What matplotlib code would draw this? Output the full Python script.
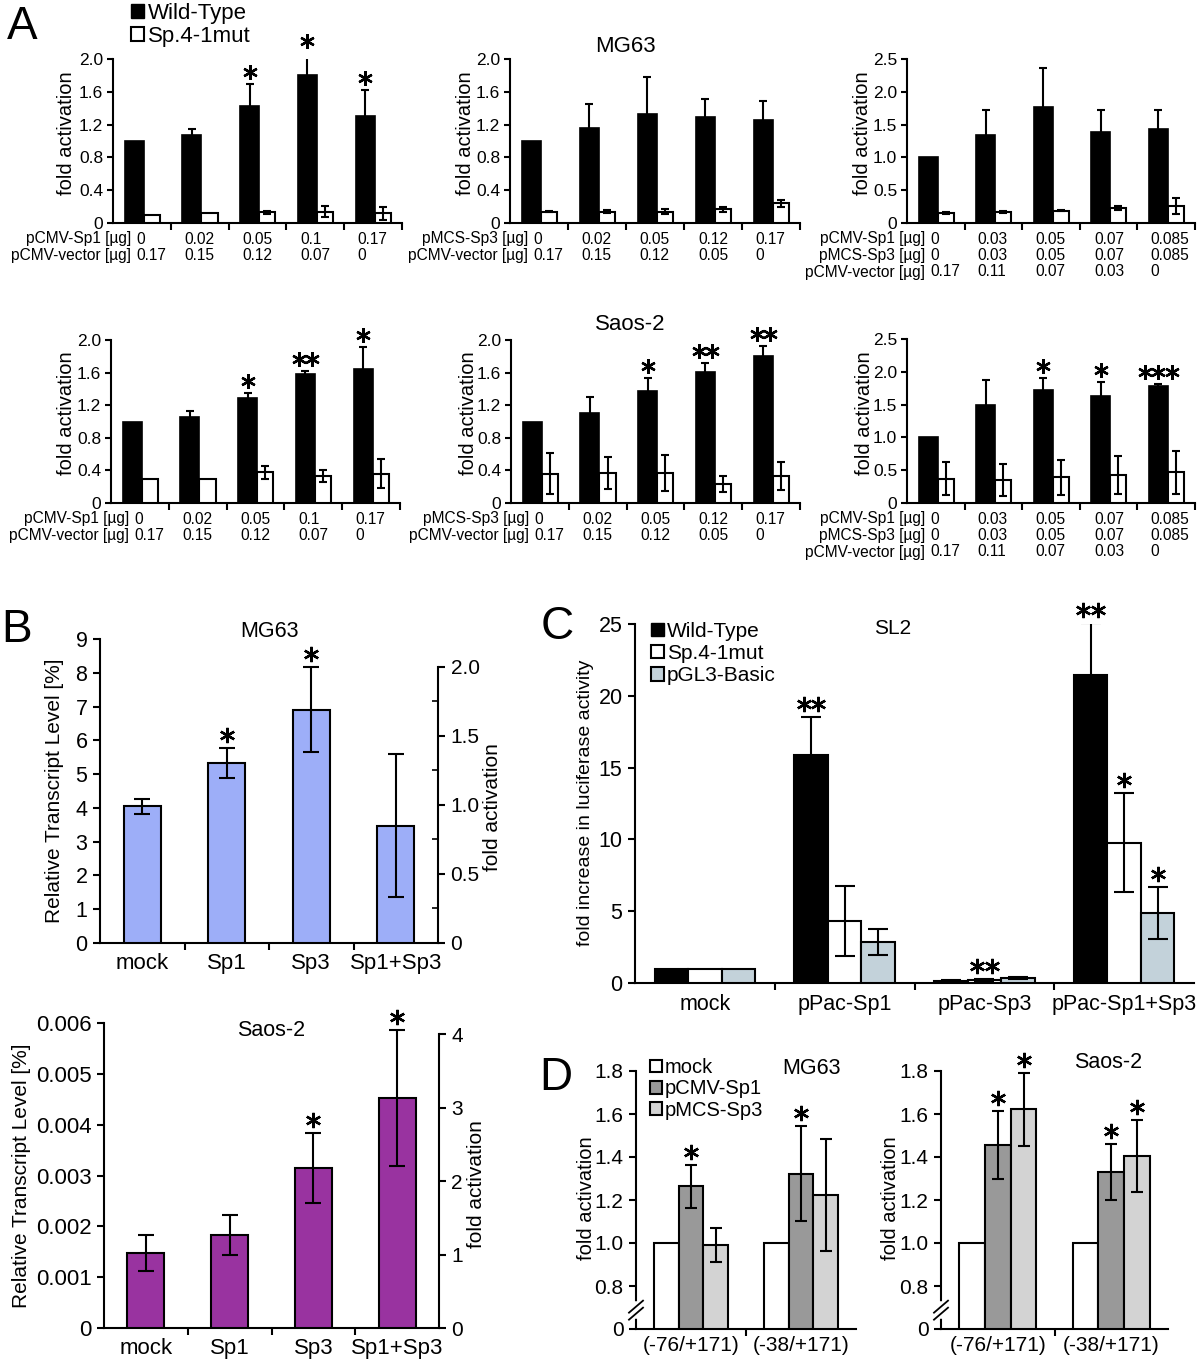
import numpy as np
import matplotlib
matplotlib.use('Agg')
import matplotlib.pyplot as plt
from matplotlib.patches import Patch
from matplotlib.transforms import offset_copy
from matplotlib.ticker import MultipleLocator

plt.rcParams['font.family'] = ['Liberation Sans', 'DejaVu Sans']
plt.rcParams['axes.linewidth'] = 1.5
plt.rcParams['xtick.major.width'] = 1.5
plt.rcParams['ytick.major.width'] = 1.5
plt.rcParams['ytick.minor.width'] = 1.2

# ---------------- data ----------------
# Panel A (Wild-Type vs Sp.4-1mut, fold activation)
sp1_ug = ['0', '0.02', '0.05', '0.1', '0.17']
sp1_vec_ug = ['0.17', '0.15', '0.12', '0.07', '0']
sp3_ug = ['0', '0.02', '0.05', '0.12', '0.17']
sp3_vec_ug = ['0.17', '0.15', '0.12', '0.05', '0']
combo_ug = ['0', '0.03', '0.05', '0.07', '0.085']
combo_vec_ug = ['0.17', '0.11', '0.07', '0.03', '0']

mg63_sp1_wt = [1.0, 1.07, 1.43, 1.80, 1.31]
mg63_sp1_wt_err = [0, 0.08, 0.26, 0.27, 0.31]
mg63_sp1_mut = [0.10, 0.12, 0.13, 0.14, 0.12]
mg63_sp1_mut_err = [0, 0, 0.02, 0.07, 0.08]
mg63_sp1_sig = [0, 0, 1, 1, 1]

mg63_sp3_wt = [1.0, 1.16, 1.33, 1.29, 1.26]
mg63_sp3_wt_err = [0, 0.29, 0.45, 0.22, 0.23]
mg63_sp3_mut = [0.14, 0.14, 0.14, 0.17, 0.24]
mg63_sp3_mut_err = [0.01, 0.02, 0.03, 0.03, 0.04]
mg63_sp3_sig = [0, 0, 0, 0, 0]

mg63_combo_wt = [1.0, 1.34, 1.77, 1.39, 1.44]
mg63_combo_wt_err = [0, 0.39, 0.59, 0.34, 0.29]
mg63_combo_mut = [0.15, 0.17, 0.19, 0.23, 0.26]
mg63_combo_mut_err = [0.02, 0.02, 0.01, 0.03, 0.12]
mg63_combo_sig = [0, 0, 0, 0, 0]

saos_sp1_wt = [1.0, 1.06, 1.29, 1.58, 1.64]
saos_sp1_wt_err = [0, 0.07, 0.06, 0.04, 0.28]
saos_sp1_mut = [0.30, 0.29, 0.38, 0.33, 0.36]
saos_sp1_mut_err = [0, 0, 0.08, 0.07, 0.18]
saos_sp1_sig = [0, 0, 1, 2, 1]

saos_sp3_wt = [1.0, 1.10, 1.37, 1.61, 1.80]
saos_sp3_wt_err = [0, 0.20, 0.16, 0.11, 0.13]
saos_sp3_mut = [0.36, 0.37, 0.37, 0.23, 0.33]
saos_sp3_mut_err = [0.25, 0.20, 0.22, 0.10, 0.17]
saos_sp3_sig = [0, 0, 1, 2, 2]

saos_combo_wt = [1.0, 1.49, 1.72, 1.63, 1.78]
saos_combo_wt_err = [0, 0.38, 0.19, 0.21, 0.04]
saos_combo_mut = [0.37, 0.35, 0.39, 0.42, 0.47]
saos_combo_mut_err = [0.25, 0.25, 0.27, 0.29, 0.33]
saos_combo_sig = [0, 0, 1, 1, 3]

# Panel B (relative transcript level)
b_cats = ['mock', 'Sp1', 'Sp3', 'Sp1+Sp3']
b_mg63 = [4.05, 5.33, 6.91, 3.47]
b_mg63_err = [0.22, 0.45, 1.27, 2.12]
b_mg63_sig = [0, 1, 1, 0]
b_mg63_fold_top = 2.2     # right axis value at the top of left axis (9)
b_saos = [0.00148, 0.00183, 0.00314, 0.00452]
b_saos_err = [0.00035, 0.00039, 0.00069, 0.00134]
b_saos_sig = [0, 0, 1, 1]
b_saos_fold_top = 4.15    # right axis value at the top of left axis (0.006)

# Panel C (SL2)
c_cats = ['mock', 'pPac-Sp1', 'pPac-Sp3', 'pPac-Sp1+Sp3']
c_wt = [1.0, 15.9, 0.15, 21.45]
c_wt_err = [0, 2.6, 0.05, 3.6]
c_mut = [1.0, 4.32, 0.2, 9.78]
c_mut_err = [0, 2.44, 0.05, 3.45]
c_basic = [1.0, 2.85, 0.35, 4.88]
c_basic_err = [0, 0.9, 0.06, 1.8]
c_wt_sig = [0, 2, 0, 2]
c_mut_sig = [0, 0, 2, 1]
c_basic_sig = [0, 0, 0, 1]

# Panel D (deletion constructs)
d_cats = ['(-76/+171)', '(-38/+171)']
d_mg63_mock = [1.0, 1.0]
d_mg63_sp1 = [1.265, 1.322]
d_mg63_sp1_err = [0.10, 0.22]
d_mg63_sp3 = [0.99, 1.225]
d_mg63_sp3_err = [0.078, 0.26]
d_mg63_sig1 = [1, 1]
d_mg63_sig3 = [0, 0]
d_saos_mock = [1.0, 1.0]
d_saos_sp1 = [1.456, 1.332]
d_saos_sp1_err = [0.16, 0.13]
d_saos_sp3 = [1.621, 1.404]
d_saos_sp3_err = [0.17, 0.167]
d_saos_sig1 = [1, 1]
d_saos_sig3 = [1, 1]

W, H = 1200, 1359
fig = plt.figure(figsize=(W / 100, H / 100), dpi=100)


def add_ax(x0, y0, x1, y1):
    return fig.add_axes([x0 / W, 1 - y1 / H, (x1 - x0) / W, (y1 - y0) / H])


def ftext(x, y, s, **kw):
    fig.text(x / W, 1 - y / H, s, **kw)


def errbars(ax, x, y, e, capsize, lw=1.5):
    x = np.asarray(x, float)
    y = np.asarray(y, float)
    e = np.asarray(e, float)
    m = e > 0
    if m.any():
        ax.errorbar(x[m], y[m], yerr=e[m], fmt='none', ecolor='black',
                    elinewidth=lw, capsize=capsize, capthick=lw, zorder=4)


def stars(ax, x, y, n, dy=12, ms=10, gap=13, mew=1.7):
    for k in range(n):
        tr = offset_copy(ax.transData, fig=fig, x=(k - (n - 1) / 2) * gap, y=dy, units='dots')
        ax.plot([x], [y], marker=(6, 2, 0), ms=ms, mew=mew, color='black',
                transform=tr, clip_on=False, zorder=6)


def clean(ax):
    ax.spines['top'].set_visible(False)
    ax.spines['right'].set_visible(False)


# ---------------- Panel A ----------------
VAL_X = [-0.1, 0.73, 1.73, 2.75, 3.73]


def panel_a(box, wt, wt_err, mut, mut_err, sig, rows, ymax, ystep, ylab_x):
    ax = add_ax(*box)
    x = np.arange(5)
    ax.bar(x - 0.3, wt, width=0.33, align='edge', color='black', edgecolor='black', lw=1.2, zorder=3)
    errbars(ax, x - 0.3 + 0.165, wt, wt_err, capsize=3)
    ax.bar(x + 0.03, mut, width=0.28, align='edge', color='white', edgecolor='black', lw=1.5, zorder=3)
    errbars(ax, x + 0.03 + 0.14, mut, mut_err, capsize=3)
    for i in range(5):
        if sig[i]:
            stars(ax, x[i] - 0.3 + 0.165, wt[i] + wt_err[i], sig[i], dy=12, ms=10.5, gap=13.5)
    clean(ax)
    ax.set_xlim(-0.5, 4.5)
    ax.set_ylim(0, ymax)
    ticks = np.arange(0, ymax + 1e-9, ystep)
    ax.set_yticks(ticks)
    ax.set_yticklabels(['0' if t == 0 else f'{t:.1f}' for t in ticks])
    ax.set_xticks([0.5, 1.5, 2.5, 3.5, 4.5])
    ax.set_xticklabels([])
    ax.tick_params(axis='y', labelsize=12.5, length=4, pad=3)
    ax.tick_params(axis='x', length=5)
    xt = ax.get_xaxis_transform()
    for r, (name, vals) in enumerate(rows):
        dy = -(16 + 16.5 * r)
        ax.annotate(name, xy=(VAL_X[0], 0), xycoords=xt, xytext=(-5, dy),
                    textcoords='offset pixels', ha='right', va='center',
                    fontsize=11.2, annotation_clip=False)
        for i, v in enumerate(vals):
            ax.annotate(v, xy=(VAL_X[i], 0), xycoords=xt, xytext=(0, dy),
                        textcoords='offset pixels', ha='left', va='center',
                        fontsize=11.2, annotation_clip=False)
    yc = (box[1] + box[3]) / 2 - 8
    ftext(ylab_x, yc, 'fold activation', rotation=90, ha='center', va='center', fontsize=14.5)
    return ax


panel_a((113, 59, 402, 223), mg63_sp1_wt, mg63_sp1_wt_err, mg63_sp1_mut, mg63_sp1_mut_err,
        mg63_sp1_sig, [('pCMV-Sp1 [µg]', sp1_ug), ('pCMV-vector [µg]', sp1_vec_ug)], 2.0, 0.4, 67)
panel_a((510, 59, 800, 223), mg63_sp3_wt, mg63_sp3_wt_err, mg63_sp3_mut, mg63_sp3_mut_err,
        mg63_sp3_sig, [('pMCS-Sp3 [µg]', sp3_ug), ('pCMV-vector [µg]', sp3_vec_ug)], 2.0, 0.4, 466)
panel_a((907, 59, 1195, 223), mg63_combo_wt, mg63_combo_wt_err, mg63_combo_mut, mg63_combo_mut_err,
        mg63_combo_sig, [('pCMV-Sp1 [µg]', combo_ug), ('pMCS-Sp3 [µg]', combo_ug),
                         ('pCMV-vector [µg]', combo_vec_ug)], 2.5, 0.5, 863)
panel_a((111, 340, 400, 503), saos_sp1_wt, saos_sp1_wt_err, saos_sp1_mut, saos_sp1_mut_err,
        saos_sp1_sig, [('pCMV-Sp1 [µg]', sp1_ug), ('pCMV-vector [µg]', sp1_vec_ug)], 2.0, 0.4, 67)
panel_a((511, 340, 800, 503), saos_sp3_wt, saos_sp3_wt_err, saos_sp3_mut, saos_sp3_mut_err,
        saos_sp3_sig, [('pMCS-Sp3 [µg]', sp3_ug), ('pCMV-vector [µg]', sp3_vec_ug)], 2.0, 0.4, 468)
panel_a((907, 339, 1195, 503), saos_combo_wt, saos_combo_wt_err, saos_combo_mut, saos_combo_mut_err,
        saos_combo_sig, [('pCMV-Sp1 [µg]', combo_ug), ('pMCS-Sp3 [µg]', combo_ug),
                         ('pCMV-vector [µg]', combo_vec_ug)], 2.5, 0.5, 865)

ftext(625, 47, 'MG63', ha='center', va='center', fontsize=16)
ftext(630, 325, 'Saos-2', ha='center', va='center', fontsize=16)

fig.legend([Patch(facecolor='black', edgecolor='black'),
            Patch(facecolor='white', edgecolor='black', lw=1.5)],
           ['Wild-Type', 'Sp.4-1mut'], loc='upper left', bbox_to_anchor=(131 / W, 1 - 3 / H),
           frameon=False, fontsize=16, handlelength=0.6, handleheight=0.6,
           handletextpad=0.15, labelspacing=0.08, borderpad=0, borderaxespad=0)


# ---------------- Panel B ----------------
def panel_b(box, vals, errs, sig, color, ymax, ytick_step, yfmt, fold_top, fold_ticks,
            fold_minor, title, title_y, ylab_x, flab_x, flab_y, lsize, capsize):
    ax = add_ax(*box)
    x = np.arange(len(b_cats))
    ax.bar(x, vals, width=0.44, color=color, edgecolor='black', lw=1.5, zorder=3)
    errbars(ax, x, vals, errs, capsize=capsize)
    for i in range(len(x)):
        if sig[i]:
            stars(ax, x[i], vals[i] + errs[i], sig[i], dy=13, ms=11, gap=14)
    clean(ax)
    ax.set_xlim(-0.5, len(x) - 0.5)
    ax.set_ylim(0, ymax)
    ticks = np.arange(0, ymax + 1e-12, ytick_step)
    ax.set_yticks(ticks)
    ax.set_yticklabels([yfmt(t) for t in ticks])
    ax.set_xticks([0.5, 1.5, 2.5])
    ax.set_xticklabels([])
    ax.set_xticks(x, b_cats, minor=True)
    ax.tick_params(axis='x', which='minor', length=0, pad=7, labelsize=16)
    ax.tick_params(axis='x', which='major', length=5)
    ax.tick_params(axis='y', labelsize=lsize, length=5, pad=4)
    ax2 = ax.twinx()
    ax2.set_ylim(0, fold_top)
    for s in ('top', 'left', 'bottom'):
        ax2.spines[s].set_visible(False)
    ax2.spines['right'].set_bounds(0, fold_ticks[-1])
    ax2.set_yticks(fold_ticks)
    ax2.set_yticklabels(['0' if t == 0 else (f'{t:.1f}' if fold_minor else f'{t:g}') for t in fold_ticks])
    if fold_minor:
        ax2.yaxis.set_minor_locator(MultipleLocator(fold_minor))
        ax2.tick_params(axis='y', which='minor', direction='in', length=4)
    ax2.tick_params(axis='y', which='major', labelsize=15, length=5, pad=4)
    xc = (box[0] + box[2]) / 2
    ftext(xc, title_y, title, ha='center', va='center', fontsize=15.5)
    ftext(ylab_x, (box[1] + box[3]) / 2, 'Relative Transcript Level [%]', rotation=90,
          ha='center', va='center', fontsize=15)
    ftext(flab_x, flab_y, 'fold activation', rotation=90, ha='center', va='center', fontsize=15)
    return ax


panel_b((100, 639, 438, 943), b_mg63, b_mg63_err, b_mg63_sig, '#9DAEF8', 9, 1,
        lambda t: f'{t:.0f}', b_mg63_fold_top, [0, 0.5, 1.0, 1.5, 2.0], 0.25,
        'MG63', 631, 55, 493, 807, 15.5, 5.5)
panel_b((104, 1023, 439, 1328), b_saos, b_saos_err, b_saos_sig, '#9933A0', 0.006, 0.001,
        lambda t: '0' if t == 0 else f'{t:.3f}', b_saos_fold_top, [0, 1, 2, 3, 4], None,
        'Saos-2', 1030, 22, 476, 1184, 16, 6)

# ---------------- Panel C ----------------
ax_c = add_ax(635, 624, 1194, 983)
xc = np.arange(len(c_cats))
series_c = [(c_wt, c_wt_err, c_wt_sig, 'black', -0.24),
            (c_mut, c_mut_err, c_mut_sig, 'white', 0.0),
            (c_basic, c_basic_err, c_basic_sig, '#C3D2DA', 0.24)]
for vals, errs, sig, col, off in series_c:
    ax_c.bar(xc + off, vals, width=0.24, color=col, edgecolor='black', lw=1.5, zorder=3)
    errbars(ax_c, xc + off, vals, errs, capsize=7)
    for i in range(len(xc)):
        if sig[i]:
            stars(ax_c, xc[i] + off, vals[i] + errs[i], sig[i], dy=13, ms=11, gap=14.5)
clean(ax_c)
ax_c.set_xlim(-0.5, 3.5)
ax_c.set_ylim(0, 25)
ax_c.set_yticks(np.arange(0, 26, 5))
ax_c.set_xticks([0.5, 1.5, 2.5])
ax_c.set_xticklabels([])
ax_c.set_xticks(xc, c_cats, minor=True)
ax_c.tick_params(axis='x', which='minor', length=0, pad=8, labelsize=15.5)
ax_c.tick_params(axis='x', which='major', length=5)
ax_c.tick_params(axis='y', labelsize=15.5, length=5, pad=4)
ftext(586, 803, 'fold increase in luciferase activity', rotation=90, ha='center', va='center', fontsize=14)
ftext(893, 628, 'SL2', ha='center', va='center', fontsize=15)
ax_c.legend([Patch(facecolor='black', edgecolor='black'),
             Patch(facecolor='white', edgecolor='black', lw=1.5),
             Patch(facecolor='#C3D2DA', edgecolor='black', lw=1.5)],
            ['Wild-Type', 'Sp.4-1mut', 'pGL3-Basic'], loc='upper left',
            bbox_to_anchor=(651 / W, 1 - 622 / H), bbox_transform=fig.transFigure,
            frameon=False, fontsize=15, handlelength=0.6, handleheight=0.6,
            handletextpad=0.15, labelspacing=0.15, borderpad=0, borderaxespad=0)

# ---------------- Panel D ----------------
D_ZERO = 0.6   # axis position that carries the "0" label below the break


def panel_d(box, mock, sp1, sp1_err, sp3, sp3_err, sig1, sig3, title, title_xy, ylab_x):
    ax = add_ax(*box)
    x = np.arange(len(d_cats))
    w = 0.227
    for vals, errs, sig, col, off in [(mock, [0, 0], [0, 0], 'white', -w),
                                      (sp1, sp1_err, sig1, '#999999', 0.0),
                                      (sp3, sp3_err, sig3, '#D3D3D3', w)]:
        v = np.asarray(vals)
        ax.bar(x + off, v - D_ZERO, bottom=D_ZERO, width=w, color=col, edgecolor='black', lw=1.5, zorder=3)
        errbars(ax, x + off, v, errs, capsize=4)
        for i in range(len(x)):
            if sig[i]:
                stars(ax, x[i] + off, v[i] + errs[i], sig[i], dy=13, ms=11, gap=14)
    clean(ax)
    ax.set_xlim(-0.5, 1.5)
    ax.set_ylim(D_ZERO, 1.8)
    yt = [D_ZERO, 0.8, 1.0, 1.2, 1.4, 1.6, 1.8]
    ax.set_yticks(yt)
    ax.set_yticklabels(['0'] + [f'{t:.1f}' for t in yt[1:]])
    ax.set_xticks([0.5])
    ax.set_xticklabels([])
    ax.set_xticks(x, d_cats, minor=True)
    ax.tick_params(axis='x', which='minor', length=0, pad=5, labelsize=15)
    ax.tick_params(axis='x', which='major', length=5)
    ax.tick_params(axis='y', labelsize=15, length=5, pad=4)
    # axis break marks
    wpx = box[2] - box[0]
    hpx = box[3] - box[1]
    yb = 0.073
    ax.plot([0, 0], [yb - 6 / hpx, yb + 6 / hpx], color='white', lw=4,
            transform=ax.transAxes, clip_on=False, zorder=7)
    for d in (-3.5, 3.5):
        ax.plot([-7 / wpx, 7 / wpx], [yb + (d - 6) / hpx, yb + (d + 6) / hpx], color='black',
                lw=1.3, transform=ax.transAxes, clip_on=False, zorder=8)
    ftext(title_xy[0], title_xy[1], title, ha='center', va='center', fontsize=15.5)
    ftext(ylab_x, 1198, 'fold activation', rotation=90, ha='center', va='center', fontsize=14.5)
    return ax


ax_d1 = panel_d((636, 1071, 856, 1329), d_mg63_mock, d_mg63_sp1, d_mg63_sp1_err, d_mg63_sp3,
                d_mg63_sp3_err, d_mg63_sig1, d_mg63_sig3, 'MG63', (811, 1069), 586)
panel_d((941, 1071, 1168, 1329), d_saos_mock, d_saos_sp1, d_saos_sp1_err, d_saos_sp3,
        d_saos_sp3_err, d_saos_sig1, d_saos_sig3, 'Saos-2', (1108, 1063), 890)
ax_d1.legend([Patch(facecolor='white', edgecolor='black', lw=1.5),
              Patch(facecolor='#999999', edgecolor='black', lw=1.5),
              Patch(facecolor='#D3D3D3', edgecolor='black', lw=1.5)],
             ['mock', 'pCMV-Sp1', 'pMCS-Sp3'], loc='upper left',
             bbox_to_anchor=(650 / W, 1 - 1058 / H), bbox_transform=fig.transFigure,
             frameon=False, fontsize=14.5, handlelength=0.6, handleheight=0.6,
             handletextpad=0.15, labelspacing=0.12, borderpad=0, borderaxespad=0)

# panel letters
for letter, (px, py) in {'A': (22, 27), 'B': (17, 630), 'C': (557, 627), 'D': (556, 1078)}.items():
    ftext(px, py, letter, ha='center', va='center', fontsize=33)

fig.savefig('out.png', dpi=100)
